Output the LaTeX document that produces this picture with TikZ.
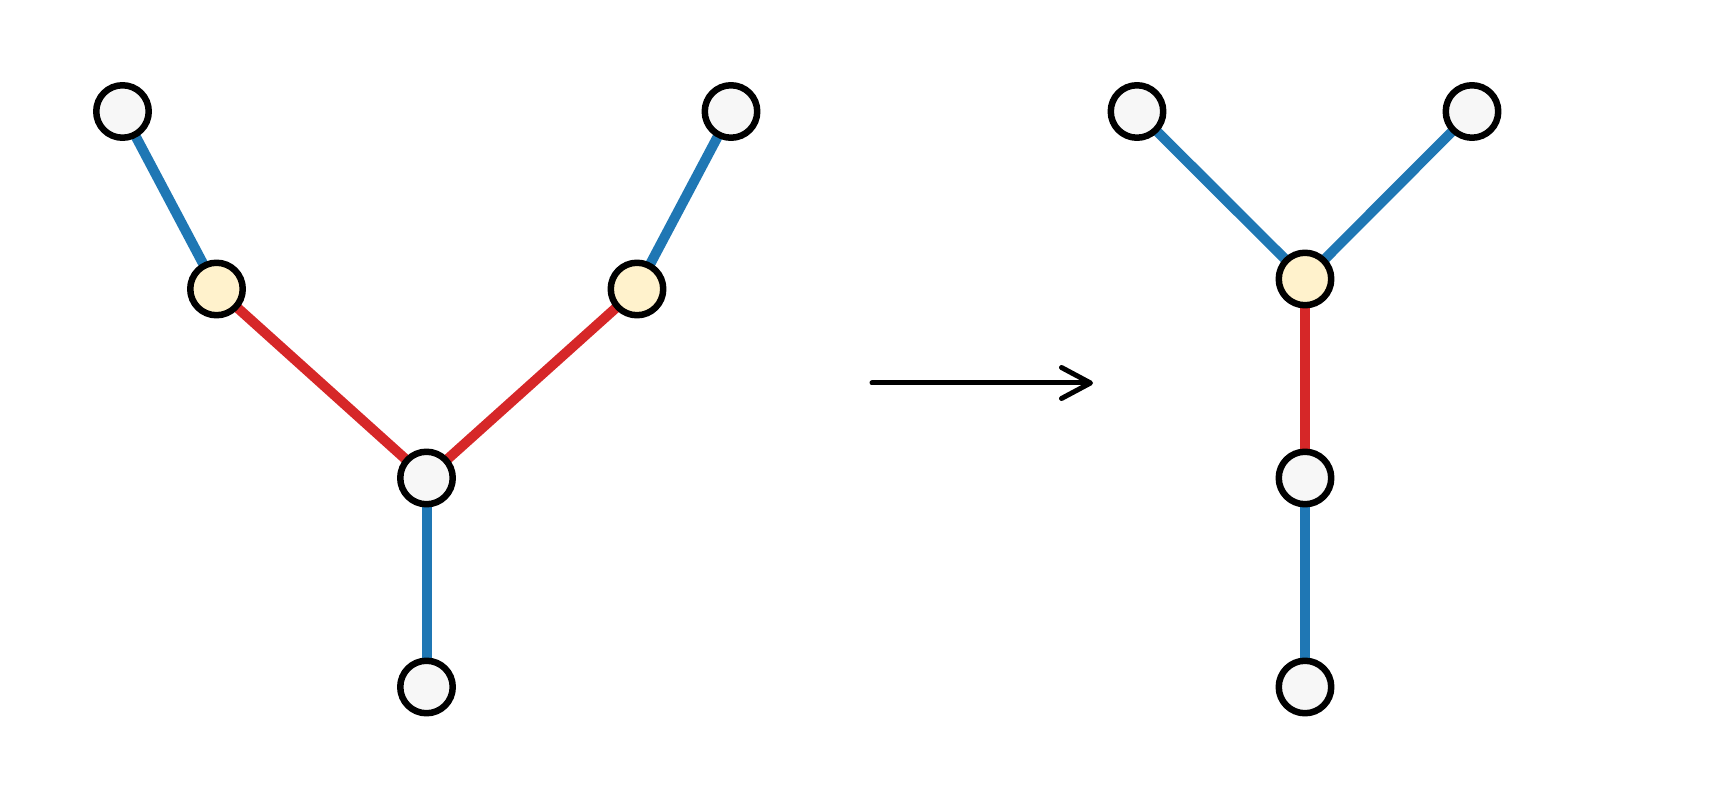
\documentclass[tikz,border=0pt]{standalone}
\usepackage{xcolor}
\usepackage{tikz}
\usetikzlibrary{arrows.meta,backgrounds}

\definecolor{edgeblue}{HTML}{1F77B4}
\definecolor{edgered}{HTML}{D62728}
\definecolor{vgrey}{HTML}{F7F7F7}
\definecolor{vyellow}{HTML}{FFF2CC}

\begin{document}
\begin{tikzpicture}[x=0.02cm, y=-0.02cm, line cap=round, line join=round,
    vert/.style={circle, draw=black, line width=0.13cm, fill=vgrey, inner sep=0pt, minimum size=1.05cm},
    hub/.style={vert, fill=vyellow},
    blueedge/.style={draw=edgeblue, line width=0.2cm, line cap=butt},
    rededge/.style={draw=edgered, line width=0.2cm, line cap=butt}]
    \useasboundingbox (0,0) rectangle (1731,810);

    % Nodes (left tree)
    \node[vert] (LTL) at (122.5,111.5) {};
    \node[vert] (LTR) at (731,111.5) {};
    \node[hub] (LYL) at (216.5,289) {};
    \node[hub] (LYR) at (637,289) {};
    \node[vert] (LC) at (426.5,478) {};
    \node[vert] (LB) at (426.5,687) {};

    % Nodes (right tree)
    \node[vert] (RTL) at (1137,111.5) {};
    \node[vert] (RTR) at (1472,111.5) {};
    \node[hub] (RY) at (1305,279) {};
    \node[vert] (RC) at (1305,478) {};
    \node[vert] (RB) at (1305,687) {};

    % Connections
    \begin{scope}[on background layer]
    \draw[blueedge] (LTL.center) -- (LYL.center);
    \draw[blueedge] (LTR.center) -- (LYR.center);
    \draw[rededge] (LYL.center) -- (LC.center);
    \draw[rededge] (LYR.center) -- (LC.center);
    \draw[blueedge] (LC.center) -- (LB.center);

    \draw[blueedge] (RTL.center) -- (RY.center);
    \draw[blueedge] (RTR.center) -- (RY.center);
    \draw[rededge] (RY.center) -- (RC.center);
    \draw[blueedge] (RC.center) -- (RB.center);
    \end{scope}

    % Arrow
    \coordinate (from) at (872,383);
    \coordinate (to) at (1093,383);
    \draw[line width=0.1cm, -{Straight Barb[length=0.58cm, width=0.62cm, round]}] (from) -- (to);
\end{tikzpicture}
\end{document}
